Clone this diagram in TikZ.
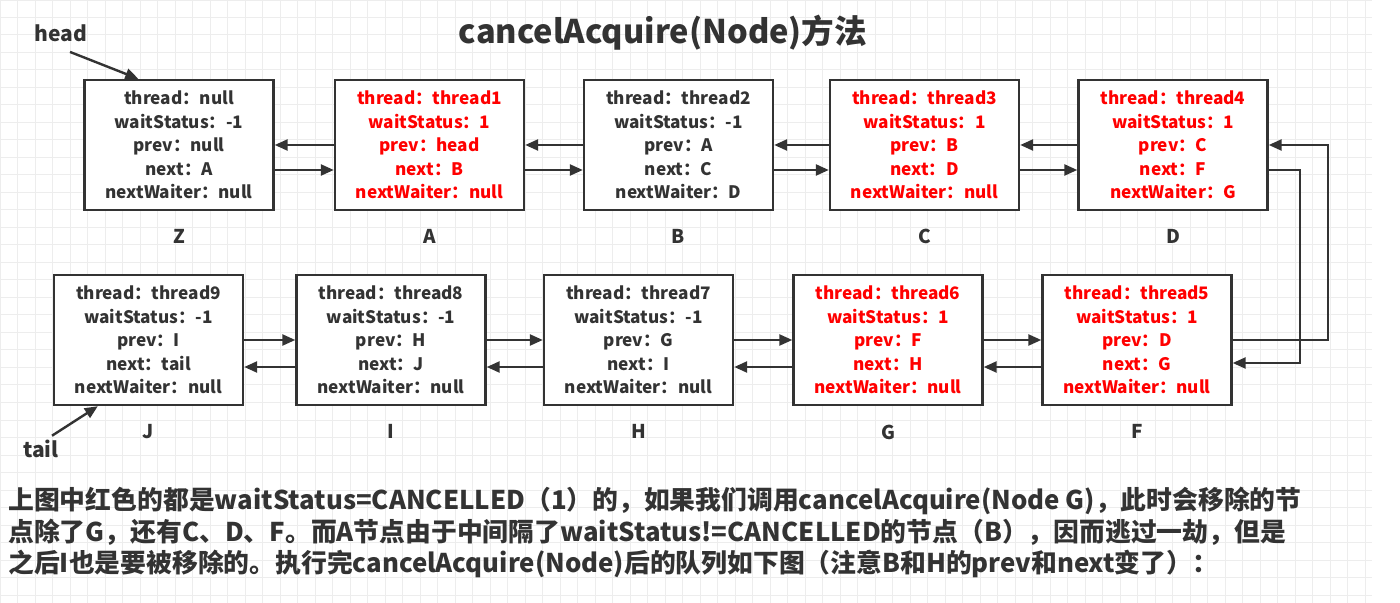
\documentclass[tikz,border=0pt]{standalone}
\usepackage{fontspec}
\setmainfont{Noto Sans CJK SC}
\usetikzlibrary{positioning,arrows.meta}
\definecolor{ink}{HTML}{333333}
\definecolor{cancel}{HTML}{FF0000}
\definecolor{gridc}{HTML}{EDEDED}

\begin{document}
\begin{tikzpicture}[
    x=0.5pt, y=-0.5pt,
    box/.style={draw=ink, line width=1.2pt, fill=white, minimum width=94.5pt, minimum height=65pt,
        align=center, text=ink, font=\bfseries\fontsize{8.6}{11.75}\selectfont},
    gone/.style={box, text=cancel},
    lbl/.style={inner sep=0pt, text=ink, font=\bfseries\fontsize{9.5}{11}\selectfont},
    ptr/.style={inner sep=0pt, text=ink, font=\bfseries\fontsize{10.5}{12}\selectfont},
    arr/.style={draw=ink, line width=1.2pt, -{Triangle[length=6.5pt, width=5.5pt]}}
]
\useasboundingbox (0,0) rectangle (1400,603);
\fill[white] (0,0) rectangle (1400,603);
\draw[gridc, line width=0.5pt, step=8.75pt] (0,0) grid (1372,603);

\node[font=\bfseries\fontsize{16.3}{18}\selectfont, text=ink] (title) at (663,33) {cancelAcquire(Node)方法};

% first row
\node[box]  (nZ) at (179,145)   {thread：null\\ waitStatus：-1\\ prev：null\\ next：A\\ nextWaiter：null};
\node[gone] (nA) at (429.5,145) {thread：thread1\\ waitStatus：1\\ prev：head\\ next：B\\ nextWaiter：null};
\node[box]  (nB) at (678.5,145) {thread：thread2\\ waitStatus：-1\\ prev：A\\ next：C\\ nextWaiter：D};
\node[gone] (nC) at (924.5,145) {thread：thread3\\ waitStatus：1\\ prev：B\\ next：D\\ nextWaiter：null};
\node[gone] (nD) at (1173,145)  {thread：thread4\\ waitStatus：1\\ prev：C\\ next：F\\ nextWaiter：G};

% second row
\node[box]  (nJ) at (148.5,340) {thread：thread9\\ waitStatus：-1\\ prev：I\\ next：tail\\ nextWaiter：null};
\node[box]  (nI) at (391,340)   {thread：thread8\\ waitStatus：-1\\ prev：H\\ next：J\\ nextWaiter：null};
\node[box]  (nH) at (638.5,340) {thread：thread7\\ waitStatus：-1\\ prev：G\\ next：I\\ nextWaiter：null};
\node[gone] (nG) at (888,340)   {thread：thread6\\ waitStatus：1\\ prev：F\\ next：H\\ nextWaiter：null};
\node[gone] (nF) at (1137,340)  {thread：thread5\\ waitStatus：1\\ prev：D\\ next：G\\ nextWaiter：null};

\node[lbl, below=9pt of nZ.south] {Z};
\node[lbl, below=9pt of nA.south] {A};
\node[lbl, below=9pt of nB.south] {B};
\node[lbl, below=9pt of nC.south] {C};
\node[lbl, below=9pt of nD.south] {D};
\node[lbl, below=9pt of nJ.south] {J};
\node[lbl, below=9pt of nI.south] {I};
\node[lbl, below=9pt of nH.south] {H};
\node[lbl, below=9pt of nG.south] {G};
\node[lbl, below=9pt of nF.south] {F};

% prev / next links
\draw[arr] (nA) -- (nZ);
\draw[arr] ([yshift=-12.5pt]nZ.east) -- ([yshift=-12.5pt]nA.west);
\draw[arr] (nB) -- (nA);
\draw[arr] ([yshift=-12.5pt]nA.east) -- ([yshift=-12.5pt]nB.west);
\draw[arr] (nC) -- (nB);
\draw[arr] ([yshift=-12.5pt]nB.east) -- ([yshift=-12.5pt]nC.west);
\draw[arr] (nD) -- (nC);
\draw[arr] ([yshift=-12.5pt]nC.east) -- ([yshift=-12.5pt]nD.west);

\draw[arr] ([yshift=-12.5pt]nD.east) -- ++(31,0) |- ([yshift=-11.5pt]nF.east);
\draw[arr] (nF.east) -- ++(95,0) |- (nD.east);

\draw[arr] (nJ) -- (nI);
\draw[arr] ([yshift=-13.5pt]nI.west) -- ([yshift=-13.5pt]nJ.east);
\draw[arr] (nI) -- (nH);
\draw[arr] ([yshift=-13.5pt]nH.west) -- ([yshift=-13.5pt]nI.east);
\draw[arr] (nH) -- (nG);
\draw[arr] ([yshift=-13.5pt]nG.west) -- ([yshift=-13.5pt]nH.east);
\draw[arr] (nG) -- (nF);
\draw[arr] ([yshift=-13.5pt]nF.west) -- ([yshift=-13.5pt]nG.east);

% head / tail
\node[ptr] (head) at (61,33) {head};
\node[ptr] (tail) at (41,449) {tail};
\draw[arr] ([shift={(4.5pt,-5pt)}]head.south) -- ([xshift=27.5pt]nZ.north west);
\draw[arr] ([shift={(5.5pt,2pt)}]tail.north) -- ([xshift=22.5pt]nJ.south west);

\node[anchor=north west, align=left, inner sep=0pt, text=ink,
      font=\bfseries\fontsize{12.9}{15.75}\selectfont] (note) at (8,487)
  {上图中红色的都是waitStatus=CANCELLED（1）的，如果我们调用cancelAcquire(Node G)，此时会移除的节\\
   点除了G，还有C、D、F。而A节点由于中间隔了waitStatus!=CANCELLED的节点（B），因而逃过一劫，但是\\
   之后I也是要被移除的。执行完cancelAcquire(Node)后的队列如下图（注意B和H的prev和next变了）：};
\end{tikzpicture}
\end{document}
